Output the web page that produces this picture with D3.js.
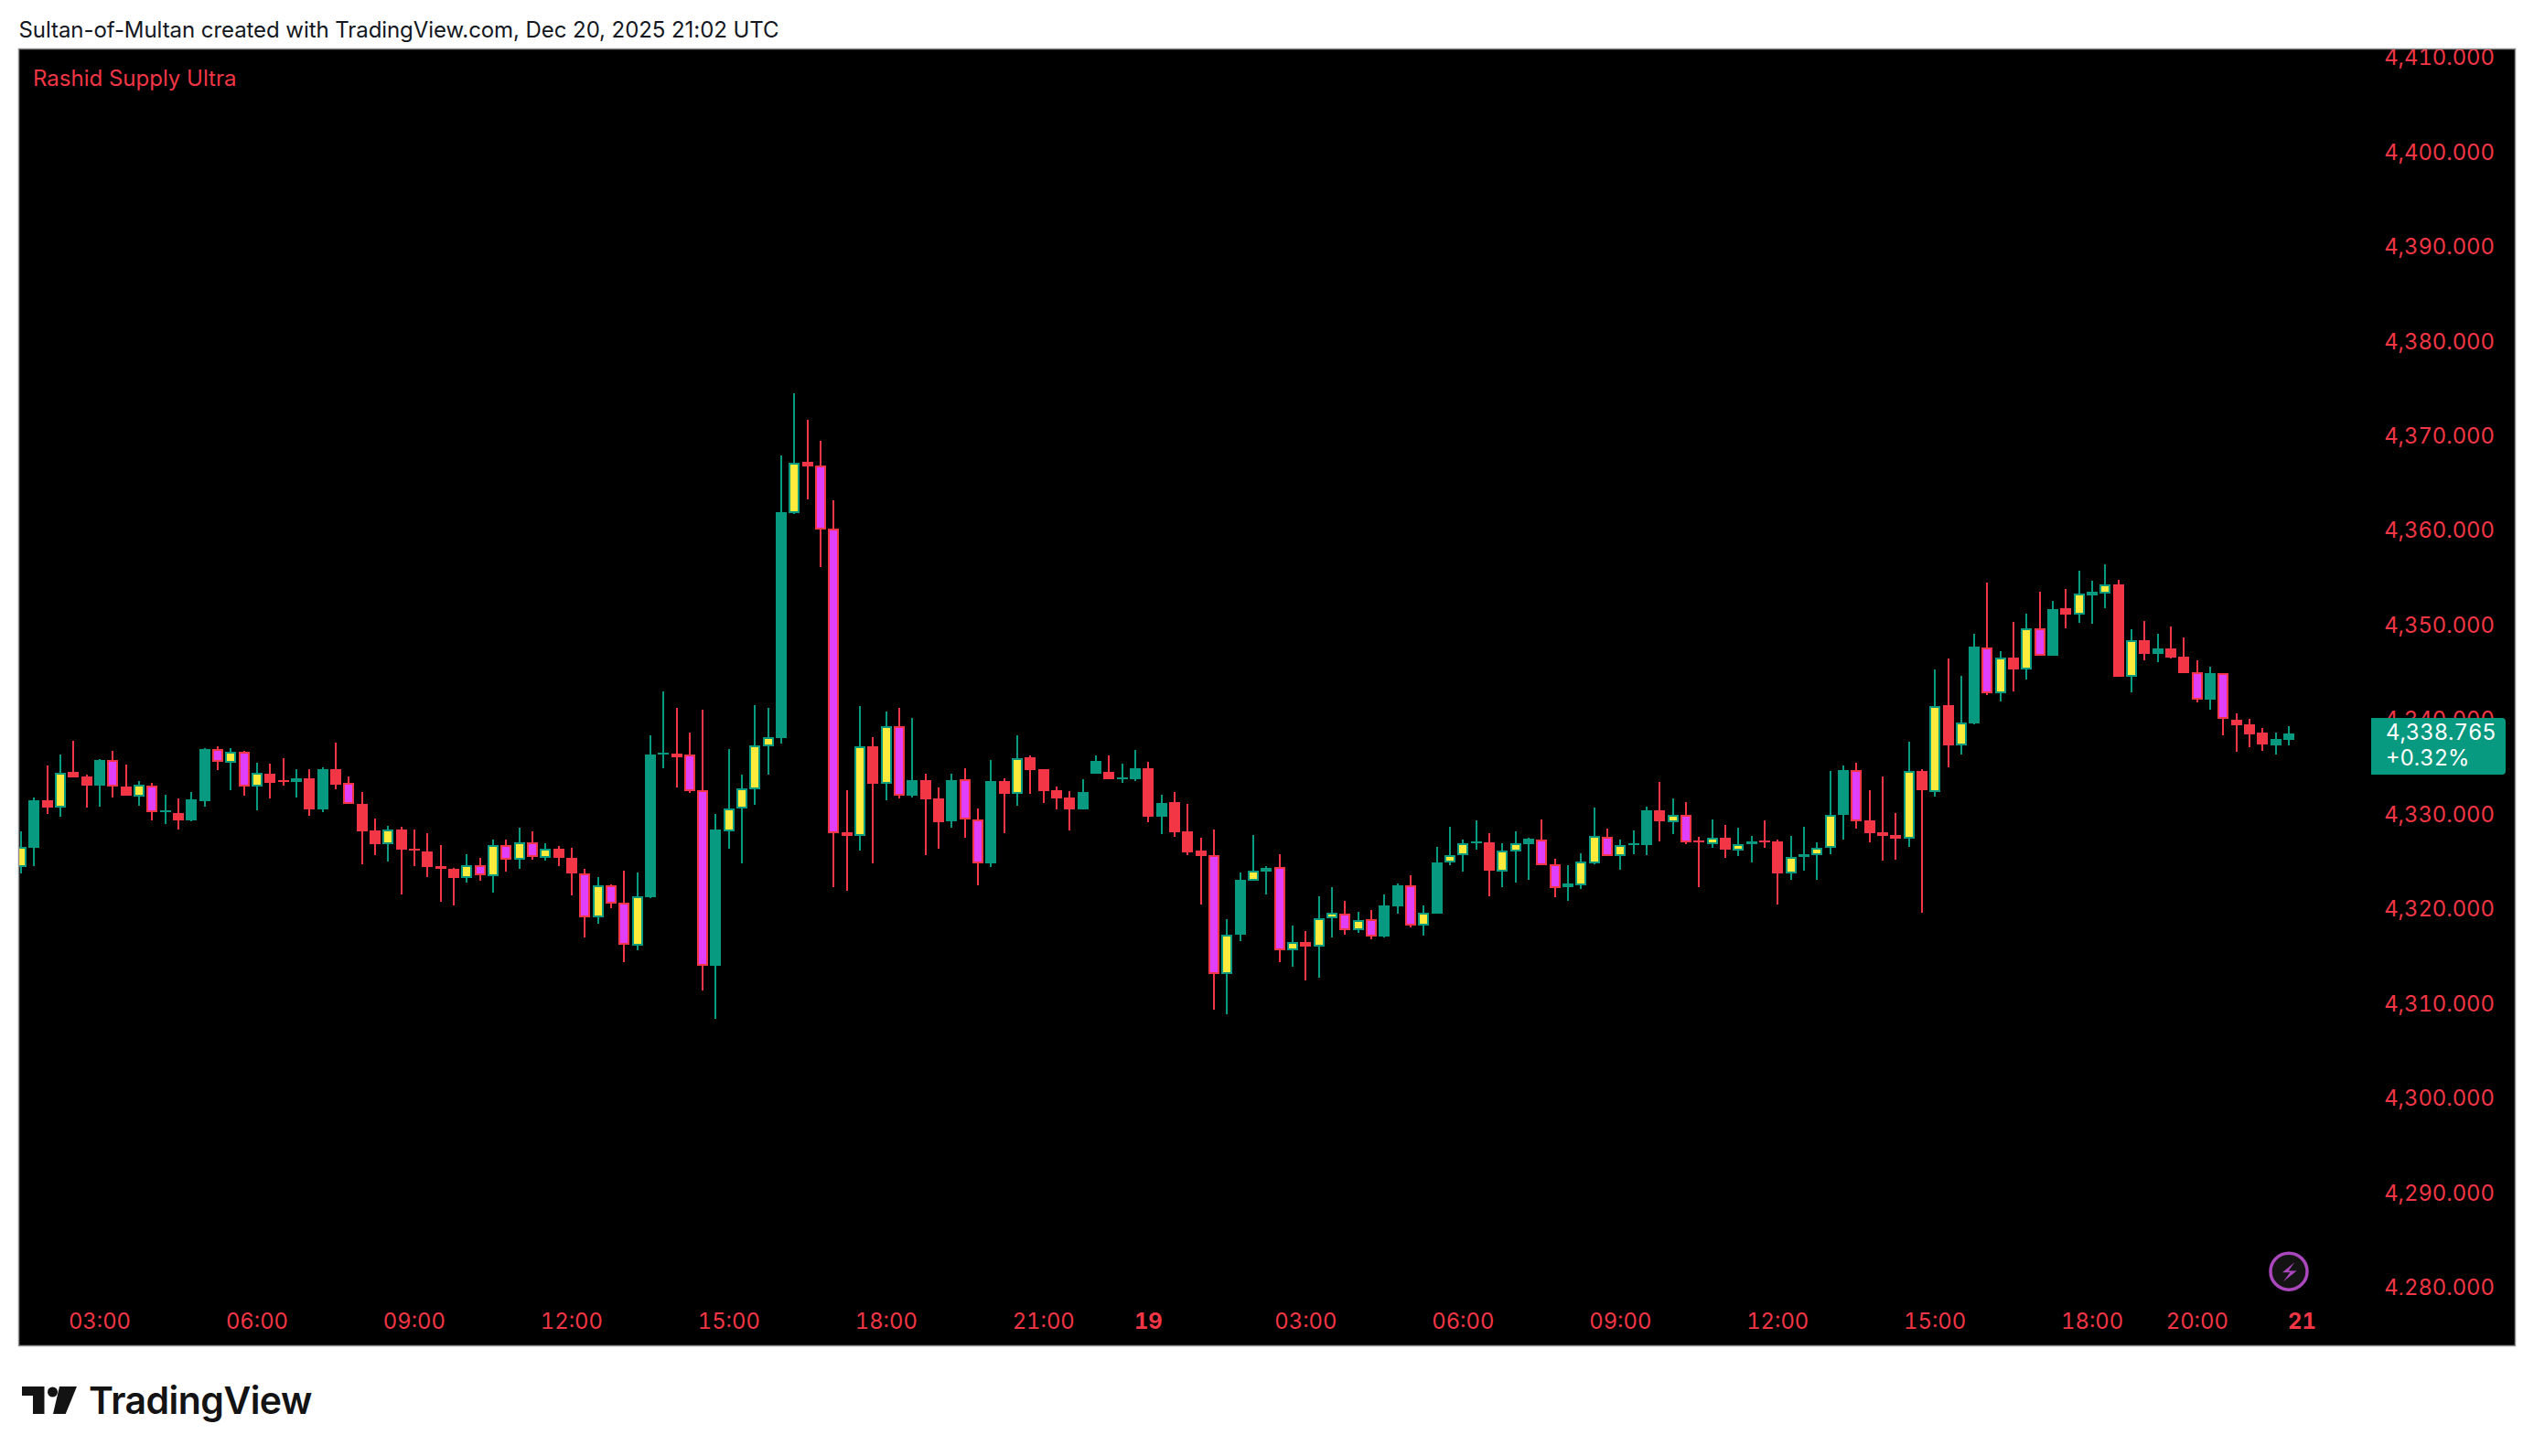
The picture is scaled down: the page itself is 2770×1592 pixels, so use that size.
<!DOCTYPE html>
<html><head><meta charset="utf-8">
<script src="https://cdn.jsdelivr.net/npm/d3@7/dist/d3.min.js"></script>
<style>
html,body{margin:0;padding:0;background:#fff;}
svg{display:block;font-family:Inter,"Noto Sans",sans-serif;}
.axis text{font-family:Inter,sans-serif;font-size:23.8px;fill:#f23645;font-feature-settings:"tnum";}
.axis .domain{display:none;}
</style></head><body>
<svg id="c" width="2770" height="1592"></svg>
<script>
const titleText = "Sultan-of-Multan created with TradingView.com, Dec 20, 2025 21:02 UTC";
const indicatorName = "Rashid Supply Ultra";
const lastPrice = 4338.765;
const lastChange = "+0.32%";
const priceTicks = [4280,4290,4300,4310,4320,4330,4340,4350,4360,4370,4380,4390,4400,4410];
const timeTickIndex = [6,18,30,42,54,66,78,86,98,110,122,134,146,158,166,174];
const timeTickLabel = ["03:00","06:00","09:00","12:00","15:00","18:00","21:00","19","03:00","06:00","09:00","12:00","15:00","18:00","20:00","21"];
const boldTimeLabels = ["19","21"];
// Y teal/yellow (up), T teal (up), R red (down), M red/magenta (down)
const kinds = "YTRYRRTMRY"+"MTRTTMYMYR"+"RTRTRMRRYR"+"RRRRYMYMYM"+"YRRMYMMYTT"+"RMMTYYYYTY"+"RMMRYRYMTR"+"RTMMTRYRRR"+"RTTRTTRTRR"+"RMYTYTMYRY"+"YMYMTTMYTY"+"YTRYYTMMTY"+"YMYTTRYMRY"+"RYTRRYTYYT"+"MRRRYRYRYT"+"MYRYMTRYTY"+"RYRTRRMTMR"+"RRTT";
const highs = [
4328.40,4331.98,4335.36,4336.52,4337.97,4334.40,4336.04,4336.91,4335.46,4333.72,
4333.53,4332.27,4331.88,4332.56,4337.20,4337.39,4337.20,4336.91,4335.65,4335.56,
4336.14,4334.98,4334.98,4335.17,4337.78,4334.20,4332.56,4329.76,4328.98,4328.89,
4328.60,4328.21,4326.95,4324.54,4325.99,4325.60,4327.53,4327.53,4328.79,4328.40,
4327.15,4326.86,4326.66,4324.44,4323.57,4322.80,4324.25,4324.05,4338.55,4343.19,
4341.45,4338.84,4341.26,4330.24,4337.10,4334.40,4341.74,4341.45,4368.13,4374.70,
4371.90,4369.68,4363.39,4332.75,4341.65,4338.36,4341.07,4341.46,4340.39,4334.50,
4333.05,4334.50,4335.08,4330.82,4335.95,4334.01,4338.56,4336.43,4334.98,4333.14,
4332.66,4333.92,4336.43,4336.43,4335.56,4337.01,4335.75,4332.27,4332.56,4331.30,
4327.73,4328.60,4319.13,4324.05,4328.02,4324.73,4325.99,4318.45,4317.87,4321.54,
4322.51,4321.06,4319.90,4320.09,4321.74,4322.90,4323.76,4320.57,4326.76,4328.89,
4327.53,4329.56,4328.21,4327.15,4328.40,4327.73,4329.66,4325.51,4324.83,4326.09,
4330.92,4328.70,4327.54,4328.50,4331.02,4333.63,4331.89,4331.50,4327.83,4329.66,
4329.08,4328.79,4327.92,4329.57,4327.54,4327.92,4328.89,4327.25,4334.79,4335.37,
4335.66,4332.76,4334.21,4330.34,4337.87,4334.97,4345.51,4346.67,4344.83,4349.28,
4354.69,4347.44,4350.54,4351.41,4353.73,4352.76,4354.02,4355.95,4354.89,4356.63,
4354.98,4349.76,4350.63,4349.28,4350.05,4348.89,4346.48,4345.80,4345.12,4340.87,
4340.29,4339.32,4338.84,4339.52];
const bodyTops = [
4326.76,4331.69,4331.69,4334.59,4334.69,4334.20,4335.94,4335.94,4333.14,4333.33,
4333.24,4330.63,4330.34,4331.79,4337.10,4337.10,4336.81,4336.81,4334.59,4334.49,
4333.82,4334.01,4334.01,4334.98,4334.98,4333.53,4331.30,4328.50,4328.60,4328.60,
4326.57,4326.28,4324.73,4324.44,4324.83,4324.83,4326.95,4326.95,4327.24,4327.24,
4326.57,4326.57,4325.60,4323.96,4322.70,4322.70,4320.86,4321.54,4336.52,4336.72,
4336.62,4336.52,4332.75,4328.60,4330.82,4332.95,4337.49,4338.36,4362.14,4367.36,
4367.45,4367.07,4360.40,4328.31,4337.39,4337.39,4339.52,4339.52,4333.82,4333.82,
4331.89,4333.82,4333.92,4329.66,4333.72,4333.72,4336.14,4336.24,4334.98,4332.76,
4331.98,4332.56,4335.85,4334.69,4334.11,4335.07,4335.07,4331.40,4331.50,4328.40,
4326.37,4325.89,4317.48,4323.28,4324.25,4324.54,4324.63,4316.71,4316.71,4319.22,
4319.80,4319.71,4319.03,4319.13,4320.57,4322.70,4322.70,4319.80,4325.12,4325.89,
4327.15,4327.34,4327.24,4326.37,4327.15,4327.63,4327.54,4324.93,4322.90,4325.22,
4327.92,4327.83,4326.96,4327.15,4330.63,4330.63,4330.15,4330.15,4327.44,4327.73,
4327.73,4327.05,4327.34,4327.44,4327.34,4325.70,4325.99,4326.67,4330.15,4334.88,
4334.88,4329.57,4328.31,4328.02,4334.78,4334.78,4341.64,4341.74,4339.90,4347.93,
4347.83,4346.77,4346.77,4349.86,4349.86,4351.89,4351.99,4353.53,4353.73,4354.50,
4354.50,4348.60,4348.60,4347.73,4347.73,4346.86,4345.22,4345.12,4345.12,4340.19,
4339.71,4338.84,4338.16,4338.765];
const bodyBottoms = [
4324.67,4326.66,4330.92,4330.92,4334.11,4333.24,4333.24,4333.14,4332.17,4332.08,
4330.43,4330.43,4329.56,4329.56,4331.59,4335.75,4335.65,4333.14,4333.14,4333.53,
4333.62,4333.62,4330.72,4330.72,4333.33,4331.30,4328.40,4327.05,4327.05,4326.47,
4326.37,4324.63,4324.44,4323.47,4323.47,4323.76,4323.67,4325.41,4325.41,4325.70,
4325.60,4325.60,4323.96,4319.32,4319.32,4320.77,4316.42,4316.32,4321.44,4336.52,
4336.23,4332.66,4314.20,4314.20,4328.40,4330.82,4332.85,4337.39,4338.26,4362.04,
4366.97,4360.30,4328.21,4327.92,4327.92,4333.43,4333.43,4332.18,4332.18,4331.79,
4329.37,4329.47,4329.66,4325.02,4325.02,4332.37,4332.37,4334.88,4332.66,4331.89,
4330.73,4330.73,4334.49,4333.91,4333.91,4333.91,4329.95,4329.95,4328.31,4326.18,
4325.79,4313.33,4313.33,4317.48,4323.18,4324.15,4315.84,4315.84,4316.23,4316.23,
4319.22,4317.97,4317.97,4317.29,4317.29,4320.48,4318.45,4318.45,4319.71,4325.12,
4325.89,4327.15,4324.25,4324.15,4326.28,4327.05,4324.83,4322.41,4322.51,4322.70,
4325.02,4325.80,4325.80,4326.96,4326.96,4329.47,4329.37,4327.25,4327.25,4327.05,
4326.47,4326.38,4327.05,4327.25,4323.96,4323.96,4325.70,4325.89,4326.67,4330.15,
4329.47,4328.21,4327.92,4327.63,4327.63,4332.75,4332.56,4337.49,4337.49,4339.81,
4343.00,4343.00,4345.51,4345.51,4346.96,4346.96,4351.31,4351.31,4353.34,4353.53,
4344.74,4344.74,4347.15,4347.15,4346.77,4345.12,4342.32,4342.32,4340.29,4339.61,
4338.65,4337.58,4337.49,4338.07];
const lows = [
4323.96,4324.73,4330.24,4329.95,4334.11,4330.92,4331.01,4331.98,4332.17,4331.11,
4329.56,4329.18,4328.60,4329.47,4331.01,4334.88,4332.75,4332.17,4330.63,4331.88,
4333.24,4331.98,4330.05,4330.43,4332.85,4331.30,4324.92,4325.89,4325.21,4321.74,
4324.73,4323.57,4320.96,4320.57,4322.99,4323.18,4321.93,4324.15,4324.44,4325.41,
4325.31,4324.73,4321.64,4317.19,4318.64,4320.29,4314.58,4315.84,4321.35,4335.07,
4333.04,4332.46,4311.59,4308.59,4326.57,4325.02,4331.21,4334.40,4337.68,4361.94,
4363.49,4356.34,4322.51,4322.12,4326.37,4325.02,4331.69,4331.89,4331.98,4325.89,
4326.57,4328.79,4327.73,4322.70,4324.64,4328.21,4331.11,4332.37,4331.40,4330.73,
4328.50,4330.73,4334.49,4333.91,4333.53,4333.72,4329.37,4328.11,4327.82,4325.89,
4320.67,4309.56,4309.07,4316.81,4323.18,4321.74,4314.58,4314.10,4312.65,4312.94,
4317.19,4317.48,4317.68,4317.00,4317.19,4319.71,4318.26,4317.39,4319.71,4324.83,
4324.15,4326.47,4321.54,4322.51,4322.99,4323.28,4324.83,4321.45,4321.06,4322.32,
4324.93,4325.80,4324.35,4325.99,4325.89,4327.34,4328.12,4327.05,4322.51,4326.67,
4325.60,4325.80,4325.12,4326.67,4320.67,4323.28,4324.25,4323.28,4325.99,4327.54,
4328.70,4327.25,4325.31,4325.41,4326.76,4319.80,4332.08,4335.17,4336.52,4339.71,
4342.80,4342.13,4343.19,4344.45,4346.96,4346.96,4349.86,4350.44,4350.34,4351.99,
4344.74,4343.09,4346.48,4346.28,4346.67,4345.12,4342.03,4341.26,4338.55,4336.81,
4337.29,4336.91,4336.52,4337.49];

const TEAL="#089981", RED="#f23645", YELLOW="#ffeb3b", MAGENTA="#e040fb";
const edgeColor = {Y:TEAL,T:TEAL,R:RED,M:RED};
const innerColor = {Y:YELLOW,M:MAGENTA};

const frame = {l:21,t:54,r:2749,b:1471};
const timeAxisTop = 1416, priceAxisLeft = 2590;

const x = d3.scaleLinear().domain([0,174]).range([23,23+174*14.33]);
const y = d3.scaleLinear().domain([4330,4340]).range([892.5,789.05]);

const svg = d3.select("#c");
svg.append("rect").attr("width",2770).attr("height",1592).attr("fill","#fff");
svg.append("rect").attr("x",frame.l).attr("y",frame.t).attr("width",frame.r-frame.l).attr("height",frame.b-frame.t).attr("fill","#000");

const defs = svg.append("defs");
defs.append("clipPath").attr("id","plotClip").append("rect").attr("x",frame.l).attr("y",frame.t).attr("width",frame.r-frame.l).attr("height",frame.b-frame.t);
defs.append("clipPath").attr("id","priceClip").append("rect").attr("x",priceAxisLeft).attr("y",frame.t).attr("width",frame.r-priceAxisLeft).attr("height",timeAxisTop-frame.t);

const candles = d3.range(kinds.length).map(i=>({i,kind:kinds[i],h:highs[i],l:lows[i],t:bodyTops[i],b:bodyBottoms[i]}));
const g = svg.append("g").attr("clip-path","url(#plotClip)");
const sel = g.selectAll("g.candle").data(candles).join("g").attr("class","candle");
sel.append("rect")
  .attr("x",d=>Math.round(x(d.i))-1).attr("width",2)
  .attr("y",d=>Math.round(y(d.h))).attr("height",d=>Math.round(y(d.l))-Math.round(y(d.h)))
  .attr("fill",d=>edgeColor[d.kind]);
sel.append("rect")
  .attr("x",d=>Math.round(x(d.i))-6).attr("width",12)
  .attr("y",d=>Math.round(y(d.t))).attr("height",d=>Math.max(2,Math.round(y(d.b))-Math.round(y(d.t))))
  .attr("fill",d=>edgeColor[d.kind]);
sel.filter(d=>innerColor[d.kind]).append("rect")
  .attr("x",d=>Math.round(x(d.i))-4).attr("width",8)
  .attr("y",d=>Math.round(y(d.t))+2).attr("height",d=>Math.max(0,Math.round(y(d.b))-Math.round(y(d.t))-4))
  .attr("fill",d=>innerColor[d.kind]);

// price axis
const yAxis = d3.axisRight(y).tickValues(priceTicks).tickSize(0).tickPadding(0).tickFormat(d3.format(",.3f")).offset(0);
const gy = svg.append("g").attr("clip-path","url(#priceClip)").append("g").attr("class","axis").attr("transform","translate(2727,-2.3)").call(yAxis);
gy.selectAll("text").attr("text-anchor","end").attr("x",0).attr("dy","0.36em");

// time axis
const xAxis = d3.axisBottom(x).tickValues(timeTickIndex).tickSize(0).tickPadding(0).offset(0)
  .tickFormat((d,i)=>timeTickLabel[i]);
const gx = svg.append("g").attr("class","axis").attr("transform","translate(0,1444.5)").call(xAxis);
gx.selectAll("text").attr("y",0).attr("dy","0.36em")
  .style("font-weight",(d,i)=>boldTimeLabels.includes(timeTickLabel[i])?700:400);

// last price tag
const tagY = y(lastPrice);
svg.append("path").attr("d","M2592 785H2735a4 4 0 0 1 4 4V843a4 4 0 0 1 -4 4H2592Z").attr("fill",TEAL);
svg.append("text").attr("x",2608).attr("y",tagY-1.3).attr("dy","0.36em").attr("font-size",23.8).attr("fill","#fff").style("font-feature-settings",'"tnum"').text(d3.format(",.3f")(lastPrice));
svg.append("text").attr("x",2608).attr("y",828.5).attr("dy","0.36em").attr("font-size",23.8).attr("fill","#fff").style("font-feature-settings",'"tnum"').text(lastChange);

// indicator name, title
svg.append("text").attr("x",36).attr("y",85).attr("dy","0.36em").attr("font-size",24).attr("fill",RED).text(indicatorName);
svg.append("text").attr("x",20.5).attr("y",32).attr("dy","0.36em").attr("font-size",24).attr("letter-spacing",-0.07).attr("fill","#131722").text(titleText);

// lightning badge
svg.append("circle").attr("cx",2502).attr("cy",1390.2).attr("r",20).attr("fill","#131313").attr("stroke","#ab47bc").attr("stroke-width",3.5);
svg.append("path").attr("transform","translate(2502,1390.2)").attr("d","M6.3 -10L-7 1H1.3L-6 11L8.7 -0.7H-0.3Z").attr("fill","#ab47bc");

// brand
const brand = svg.append("g").attr("fill","#131313");
brand.append("path").attr("d","M24 1516H48.5V1546H36V1526H24Z");
brand.append("circle").attr("cx",57.5).attr("cy",1522).attr("r",5.5);
brand.append("path").attr("d","M65 1516H84L71.7 1546H58Z");
brand.append("text").attr("x",97).attr("y",1545.5).attr("font-size",41).attr("font-weight",600).attr("letter-spacing",-0.55).text("TradingView");

// frame
svg.append("rect").attr("x",frame.l-0.5).attr("y",frame.t-0.5).attr("width",frame.r-frame.l+1).attr("height",frame.b-frame.t+1).attr("fill","none").attr("stroke","#8f8f8f").attr("stroke-width",1.5);
</script>
</body></html>
